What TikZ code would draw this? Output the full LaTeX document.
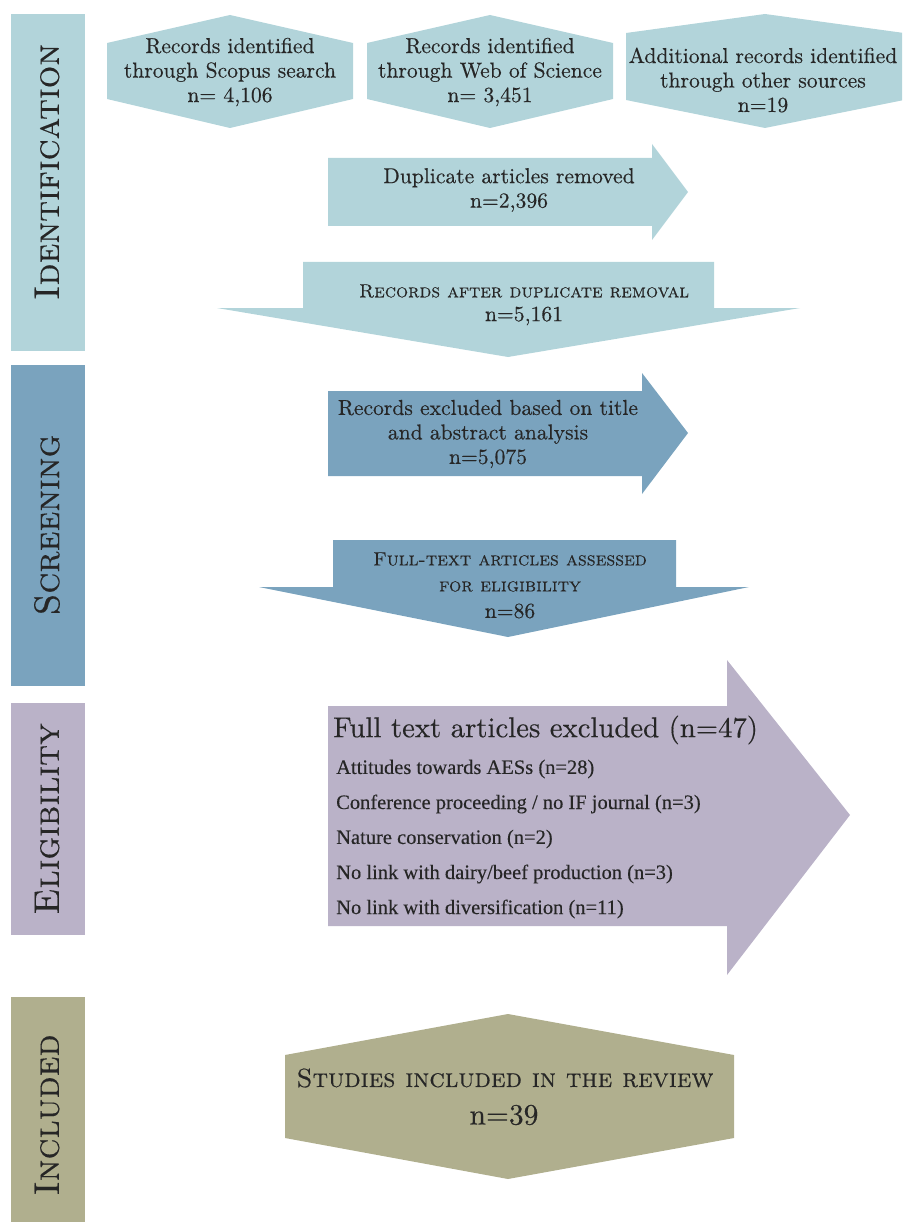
\documentclass[tikz,border=0pt]{standalone}
\usepackage{fontspec}
\newfontfamily\itemfont{Liberation Serif}[FakeBold=0.25]
\newfontfamily\heavyfont{lmroman10-regular.otf}[FakeBold=0.35, SmallCapsFont={lmromancaps10-regular.otf}, SmallCapsFeatures={FakeBold=0.35}]
\definecolor{identc}{HTML}{B2D4DA}
\definecolor{screenc}{HTML}{7AA3BE}
\definecolor{eligc}{HTML}{BAB2C8}
\definecolor{inclc}{HTML}{B0AF8E}
\definecolor{textc}{HTML}{262626}
\begin{document}
\begin{tikzpicture}[x=1pt,y=-1pt,
  txt/.style={text=textc, inner sep=0pt, align=center, font=\heavyfont\fontsize{21.6}{24.5}\selectfont},
  sctxt/.style={text=textc, inner sep=0pt, align=center, font=\heavyfont\fontsize{19}{24}\selectfont\scshape},
  sidelabel/.style={text=textc, inner sep=0pt, rotate=90, font=\heavyfont\fontsize{35.5}{36}\selectfont\scshape},
  itemtxt/.style={text=textc, inner sep=0pt, anchor=west, font=\itemfont\fontsize{20.5}{24}\selectfont},
]
\useasboundingbox (0,0) rectangle (902,1222);
\clip (0,0) rectangle (902,1222);

% side bars
\fill[identc] (11,14) rectangle (85,351);
\fill[screenc] (11,365) rectangle (85,686);
\fill[eligc] (11,703) rectangle (85,935);
\fill[inclc] (11,997) rectangle (85,1230);
\node[sidelabel] (lid) at (47,172) {Identification};
\node[sidelabel] (lscr) at (47,525) {Screening};
\node[sidelabel] (lelig) at (47,819) {Eligibility};
\node[sidelabel] (lincl) at (47,1115) {Included};

% identification hexagons
\fill[identc] (107,43) -- (230,15) -- (353,43) -- (353,99) -- (230,128) -- (107,99) -- cycle;
\fill[identc] (367,43) -- (490,15) -- (613,43) -- (613,99) -- (490,128) -- (367,99) -- cycle;
\fill[identc] (626,33) -- (765,14) -- (904,33) -- (904,100) -- (765,128) -- (626,100) -- cycle;
\node[txt] (scopus) at (230,72) {Records identified\\through Scopus search\\n= 4,106};
\node[txt] (wos) at (490,72) {Records identified\\through Web of Science\\n= 3,451};
\node[txt] (other) at (763,80) {Additional records identified\\through other sources\\n=19};

% duplicates removed
\fill[identc] (328,158) -- (652,158) -- (652,144) -- (688,192) -- (652,240) -- (652,226) -- (328,226) -- cycle;
\node[txt] (dup) at (509,190) {Duplicate articles removed\\n=2,396};

% records after duplicate removal
\fill[identc] (303,262) -- (714,262) -- (714,308) -- (800,308) -- (508,357) -- (217,308) -- (303,308) -- cycle;
\node[sctxt] (after) at (524,291) {Records after duplicate removal};
\node[txt] (aftern) at (524,316) {n=5,161};

% screening
\fill[screenc] (328,391) -- (642,391) -- (642,373) -- (688,433) -- (642,494) -- (642,476) -- (328,476) -- cycle;
\node[txt] (excl) at (488,434) {Records excluded based on title\\and abstract analysis\\n=5,075};

\fill[screenc] (333,540) -- (676,540) -- (676,587) -- (749,587) -- (508,637) -- (259,587) -- (333,587) -- cycle;
\node[sctxt, font=\heavyfont\fontsize{19.3}{26}\selectfont\scshape] (full) at (510,572) {Full-text articles assessed\\for eligibility};
\node[txt] (fulln) at (510,611) {n=86};

% eligibility
\fill[eligc] (328,706) -- (727,706) -- (727,660) -- (850,815) -- (727,975) -- (727,926) -- (328,926) -- cycle;
\node[text=textc, inner sep=0pt, anchor=west, font=\heavyfont\fontsize{28.7}{30}\selectfont] (exh) at (333,730) {Full text articles excluded (n=47)};
\node[itemtxt] (e1) at (336,769) {Attitudes towards AESs (n=28)};
\node[itemtxt] (e2) at (336,804) {Conference proceeding / no IF journal (n=3)};
\node[itemtxt] (e3) at (336,839) {Nature conservation (n=2)};
\node[itemtxt] (e4) at (336,874) {No link with dairy/beef production (n=3)};
\node[itemtxt] (e5) at (336,909) {No link with diversification (n=11)};

% included
\fill[inclc] (285,1055) -- (508,1014) -- (734,1055) -- (734,1138) -- (508,1179) -- (285,1138) -- cycle;
\node[sctxt, font=\heavyfont\fontsize{26.3}{28}\selectfont\scshape] (incl) at (505,1078) {Studies included in the review};
\node[txt, font=\heavyfont\fontsize{29.5}{31}\selectfont] (incln) at (504,1115) {n=39};
\end{tikzpicture}
\end{document}
